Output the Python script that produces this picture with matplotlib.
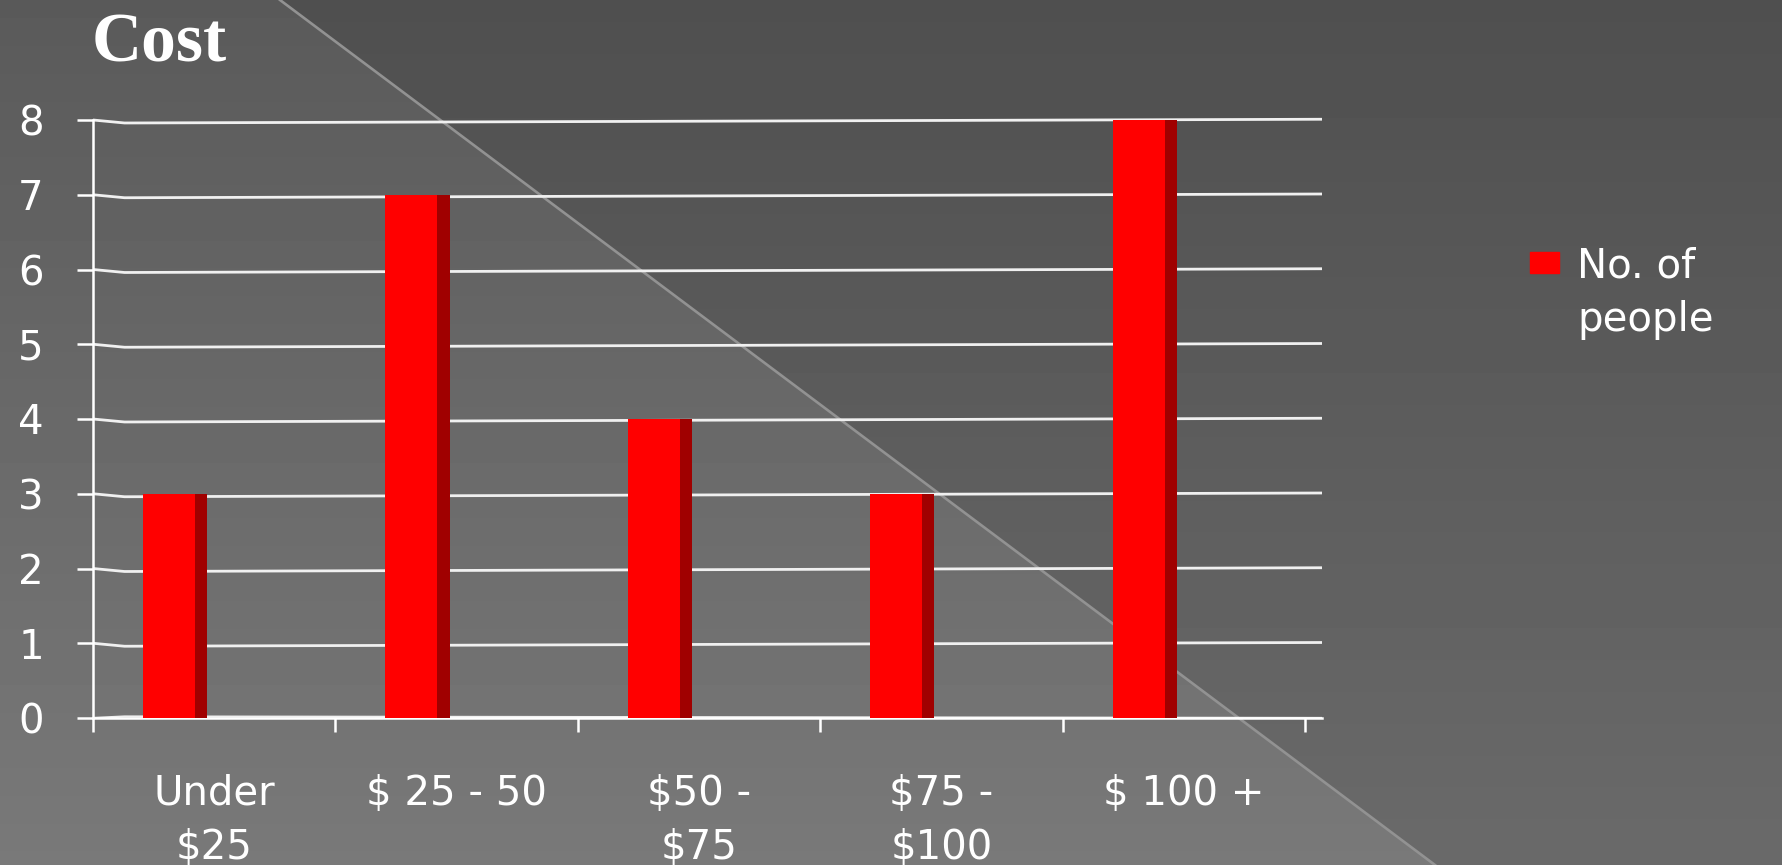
import matplotlib.pyplot as plt
import numpy as np
from matplotlib.patches import Rectangle

categories = ['Under\n$25', '$ 25 - 50', '$50 -\n$75', '$75 -\n$100', '$ 100 +']
people = [3, 7, 4, 3, 8]
series_name = 'No. of\npeople'
y_ticks = [0, 1, 2, 3, 4, 5, 6, 7, 8]

plt.rcParams['font.family'] = ['DejaVu Sans']

W, H = 1782, 865
fig = plt.figure(figsize=(W / 100, H / 100), dpi=100)

# slide background: grey gradient, a lighter triangle under the diagonal
bg = fig.add_axes([0, 0, 1, 1], zorder=-10)
yy, xx = np.mgrid[0:H, 0:W]
yf = yy / (H - 1)
shade = 79 + 27 * yf
below = xx < 280 + (1435 - 280) * yf
shade = shade + np.where(below, 11 + 4 * yf, 0)
bg.imshow(shade / 255, cmap='gray', vmin=0, vmax=1, extent=[0, 1, 0, 1],
          aspect='auto', interpolation='bilinear')
bg.plot([280 / W, 1435 / W], [1, 0], color='#929292', lw=1.9)
bg.set_xlim(0, 1)
bg.set_ylim(0, 1)
bg.axis('off')

ax = fig.add_axes([93 / W, 147 / H, 1229 / W, 598 / H])
ax.set_facecolor('none')

x = np.arange(len(people))
bar_w = 0.215
depth = 0.05
shift = 0.3135  # bars sit forward of the category slots (3-D look)

ax.bar(x, people, width=bar_w, color='#ff0000', zorder=3, clip_on=False)
ax.bar(x + bar_w / 2, people, width=depth, align='edge', color='#a00000',
       zorder=3, clip_on=False)

x0, x1 = -shift, len(people) - shift + 0.07
ax.set_xlim(x0, x1)
ax.set_ylim(0, 8)

# gridlines bend at the back wall corner before running on
kink = x0 + 0.13
for v in y_ticks[1:]:
    ax.plot([x0, kink, x1], [v, v - 0.04, v + 0.01], color='#f0f0f0',
            lw=2.0, zorder=1, solid_capstyle='butt', clip_on=False)
ax.plot([x0, kink, x1], [0, 0.02, 0.0], color='#f0f0f0', lw=1.6, zorder=1)

ax.set_xticks(x + 0.5 - shift, categories)
ax.set_xticks(np.arange(len(people) + 1) - shift, minor=True)
ax.tick_params(axis='x', which='major', length=0, pad=40, labelsize=29,
               labelcolor='white')
ax.tick_params(axis='x', which='minor', length=10, width=1.8, color='white')
for lbl in ax.get_xticklabels():
    lbl.set_linespacing(1.45)

ax.set_yticks(y_ticks)
ax.tick_params(axis='y', length=11.5, width=1.8, color='white', pad=24,
               labelsize=29, labelcolor='white')

for side in ['top', 'right']:
    ax.spines[side].set_visible(False)
for side in ['left', 'bottom']:
    ax.spines[side].set_color('white')
    ax.spines[side].set_linewidth(1.8)

fig.text(92 / W, 1 - 62 / H, 'Cost', family='Liberation Serif',
         weight='bold', size=50, color='white', va='baseline')

# legend key
fig.add_artist(Rectangle((1530 / W, 1 - 273 / H), 29 / W, 21 / H,
                         transform=fig.transFigure, color='#ff0000'))
fig.text(1577 / W, 1 - 246 / H, series_name, size=29, color='white',
         va='top', linespacing=1.45)

fig.savefig('out.png', dpi=100)
